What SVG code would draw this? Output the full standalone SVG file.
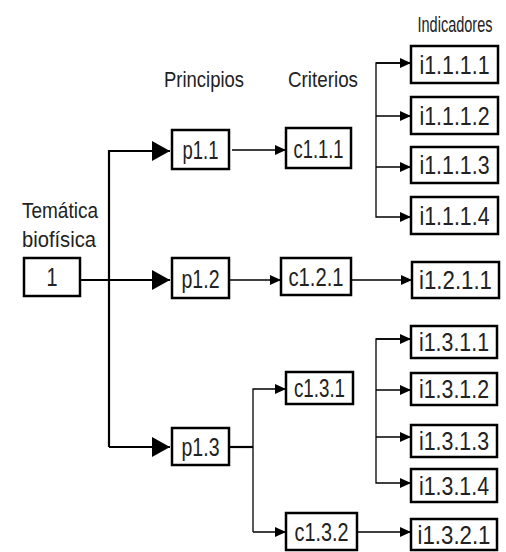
<svg xmlns="http://www.w3.org/2000/svg" width="506" height="552" viewBox="0 0 506 552">
<style>
.box{fill:#fff;stroke:#000;stroke-width:2.5}
.t{font-family:"Liberation Sans",Arial,sans-serif;font-size:25px;fill:#222;text-anchor:middle}
.lbl{font-family:"Liberation Sans",Arial,sans-serif;font-size:22px;fill:#222;text-anchor:middle}
.thick{stroke:#000;stroke-width:2.2;fill:none}
.thin{stroke:#000;stroke-width:1.3;fill:none}
</style>
<defs>
<marker id="big" markerUnits="userSpaceOnUse" markerWidth="18" markerHeight="20" refX="18" refY="10" orient="auto" viewBox="0 0 18 20">
<path d="M0,0 L18,10 L0,20 z" fill="#000"/>
</marker>
<marker id="small" markerUnits="userSpaceOnUse" markerWidth="11" markerHeight="10" refX="11" refY="5" orient="auto" viewBox="0 0 11 10">
<path d="M0,0 L11,5 L0,10 z" fill="#000"/>
</marker>
</defs>

<g id="labels">
<text class="lbl" x="60" y="218" textLength="76" lengthAdjust="spacingAndGlyphs">Temática</text>
<text class="lbl" x="59" y="247" textLength="74" lengthAdjust="spacingAndGlyphs">biofísica</text>
<text class="lbl" x="204" y="87" textLength="80" lengthAdjust="spacingAndGlyphs">Principios</text>
<text class="lbl" x="323" y="87" textLength="70" lengthAdjust="spacingAndGlyphs">Criterios</text>
<text class="lbl" transform="translate(455,32) scale(0.66,1)" x="0" y="0">Indicadores</text>
</g>

<g id="connectors">
<path class="thick" d="M80,280 H170" marker-end="url(#big)"/>
<path class="thick" d="M109,447 V151 H170" marker-end="url(#big)"/>
<path class="thick" d="M109,447 H170" marker-end="url(#big)"/>
<path class="thin" d="M232,150 H286" marker-end="url(#small)"/>
<path class="thin" d="M229,280 H281" marker-end="url(#small)"/>
<path class="thin" d="M351,280 H412" marker-end="url(#small)"/>
<path class="thick" d="M229,447 H253"/>
<path class="thin" d="M253,532 V389 H286" marker-end="url(#small)"/>
<path class="thin" d="M253,532 H286" marker-end="url(#small)"/>
<path class="thin" d="M411,63 H376 V217 H411" marker-end="url(#small)"/>
<path class="thin" d="M376,63 H411" marker-end="url(#small)"/>
<path class="thin" d="M376,116 H411" marker-end="url(#small)"/>
<path class="thin" d="M376,167 H411" marker-end="url(#small)"/>
<path class="thin" d="M411,339 H376 V483 H411" marker-end="url(#small)"/>
<path class="thin" d="M376,339 H411" marker-end="url(#small)"/>
<path class="thin" d="M376,390 H411" marker-end="url(#small)"/>
<path class="thin" d="M376,437 H411" marker-end="url(#small)"/>
<path class="thin" d="M357,532 H411" marker-end="url(#small)"/>
</g>

<g id="n1"><rect class="box" x="24" y="258" width="56" height="38"/><text class="t" x="52" y="286" textLength="11" lengthAdjust="spacingAndGlyphs">1</text></g>
<g id="p11"><rect class="box" x="172" y="130" width="57" height="39"/><text class="t" x="200.5" y="159" textLength="36" lengthAdjust="spacingAndGlyphs">p1.1</text></g>
<g id="p12"><rect class="box" x="172" y="258" width="57" height="40"/><text class="t" x="200.5" y="287.5" textLength="38" lengthAdjust="spacingAndGlyphs">p1.2</text></g>
<g id="p13"><rect class="box" x="172" y="428" width="57" height="37"/><text class="t" x="200.5" y="455.5" textLength="38" lengthAdjust="spacingAndGlyphs">p1.3</text></g>
<g id="c111"><rect class="box" x="286" y="128" width="65" height="40"/><text class="t" x="318.5" y="157.5" textLength="50" lengthAdjust="spacingAndGlyphs">c1.1.1</text></g>
<g id="c121"><rect class="box" x="281" y="258" width="70" height="37"/><text class="t" x="316" y="285.5" textLength="55" lengthAdjust="spacingAndGlyphs">c1.2.1</text></g>
<g id="c131"><rect class="box" x="286" y="372" width="67" height="32"/><text class="t" x="319.5" y="397" textLength="51" lengthAdjust="spacingAndGlyphs">c1.3.1</text></g>
<g id="c132"><rect class="box" x="286" y="513" width="71" height="37"/><text class="t" x="321.5" y="540.5" textLength="54" lengthAdjust="spacingAndGlyphs">c1.3.2</text></g>
<g id="i1111"><rect class="box" x="411" y="46" width="87" height="37"/><text class="t" x="454.5" y="73.5" textLength="70" lengthAdjust="spacingAndGlyphs">i1.1.1.1</text></g>
<g id="i1112"><rect class="box" x="411" y="97" width="87" height="37"/><text class="t" x="454.5" y="124.5" textLength="70" lengthAdjust="spacingAndGlyphs">i1.1.1.2</text></g>
<g id="i1113"><rect class="box" x="411" y="147" width="87" height="36"/><text class="t" x="454.5" y="174" textLength="70" lengthAdjust="spacingAndGlyphs">i1.1.1.3</text></g>
<g id="i1114"><rect class="box" x="411" y="197" width="87" height="37"/><text class="t" x="454.5" y="224.5" textLength="70" lengthAdjust="spacingAndGlyphs">i1.1.1.4</text></g>
<g id="i1211"><rect class="box" x="412" y="262" width="87" height="36"/><text class="t" x="455.5" y="289" textLength="73" lengthAdjust="spacingAndGlyphs">i1.2.1.1</text></g>
<g id="i1311"><rect class="box" x="411" y="326" width="86" height="32"/><text class="t" x="454" y="351" textLength="70" lengthAdjust="spacingAndGlyphs">i1.3.1.1</text></g>
<g id="i1312"><rect class="box" x="411" y="373" width="86" height="32"/><text class="t" x="454" y="398" textLength="70" lengthAdjust="spacingAndGlyphs">i1.3.1.2</text></g>
<g id="i1313"><rect class="box" x="411" y="425" width="86" height="32"/><text class="t" x="454" y="450" textLength="70" lengthAdjust="spacingAndGlyphs">i1.3.1.3</text></g>
<g id="i1314"><rect class="box" x="411" y="469" width="86" height="33"/><text class="t" x="454" y="494.5" textLength="70" lengthAdjust="spacingAndGlyphs">i1.3.1.4</text></g>
<g id="i1321"><rect class="box" x="411" y="519" width="86" height="31"/><text class="t" x="454" y="543.5" textLength="73" lengthAdjust="spacingAndGlyphs">i1.3.2.1</text></g>
</svg>
